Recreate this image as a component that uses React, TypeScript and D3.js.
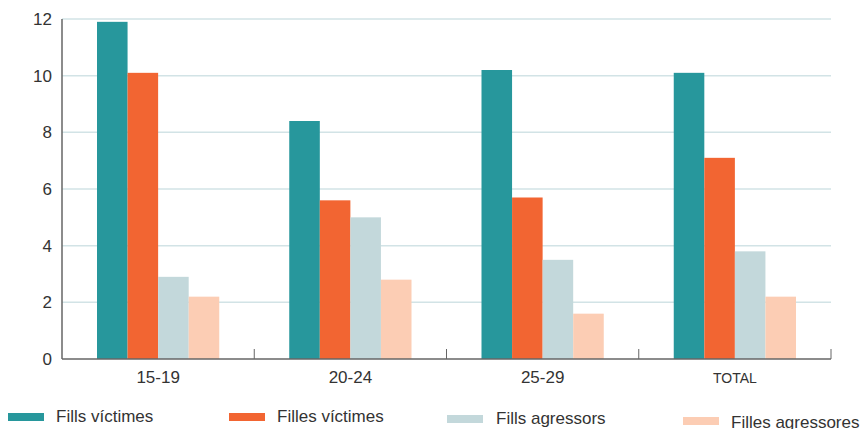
import React from "react";
import * as d3 from "d3";

const categories = ["15-19", "20-24", "25-29", "TOTAL"];
const seriesNames = ["Fills víctimes", "Filles víctimes", "Fills agressors", "Filles agressores"];
const fillsVictimes = [11.9, 8.4, 10.2, 10.1];
const fillesVictimes = [10.1, 5.6, 5.7, 7.1];
const fillsAgressors = [2.9, 5.0, 3.5, 3.8];
const fillesAgressores = [2.2, 2.8, 1.6, 2.2];
const yTicks = [0, 2, 4, 6, 8, 10, 12];
const colors = ["#27979c", "#f26532", "#c3d8db", "#fccdb4"];

const W = 866;
const H = 429;
const left = 62;
const right = 831;
const top = 19;
const bottom = 359;

const legendPos = [
  { rx: 8, ry: 413, tx: 56, ty: 422 },
  { rx: 229, ry: 413, tx: 277, ty: 422 },
  { rx: 447, ry: 415, tx: 496, ty: 424 },
  { rx: 683, ry: 417, tx: 731, ty: 428 },
];

export default function App() {
  const series = [fillsVictimes, fillesVictimes, fillsAgressors, fillesAgressores];
  const x = d3.scaleBand<string>().domain(categories).range([left, right]).paddingInner(0).paddingOuter(0);
  const y = d3.scaleLinear().domain([0, 12]).range([bottom, top]);
  const inner = d3
    .scaleBand<number>()
    .domain(d3.range(series.length))
    .range([35, x.bandwidth() - 35]);
  const font = "'Liberation Sans', Arial, Helvetica, sans-serif";
  return (
    <svg width={W} height={H} style={{ position: "absolute", left: 0, top: 0 }} fontFamily={font}>
      {yTicks.map((t) =>
        t > 0 ? (
          <line key={"g" + t} x1={left} x2={right} y1={y(t)} y2={y(t)} stroke="#d2e3e6" strokeWidth={1.5} />
        ) : null
      )}
      {yTicks.map((t) => (
        <text key={"yl" + t} x={52} y={y(t)} dy="0.36em" textAnchor="end" fontSize={17} fill="#333">
          {t}
        </text>
      ))}
      {categories.map((c, ci) =>
        series.map((s, si) => (
          <rect
            key={c + si}
            x={(x(c) as number) + (inner(si) as number)}
            y={y(s[ci])}
            width={inner.bandwidth()}
            height={y(0) - y(s[ci])}
            fill={colors[si]}
          />
        ))
      )}
      <line x1={left} x2={left} y1={top} y2={bottom} stroke="#666" strokeWidth={1.5} />
      <line x1={left} x2={right} y1={bottom} y2={bottom} stroke="#666" strokeWidth={1.5} />
      {categories.map((c, i) => (
        <line
          key={"t" + c}
          x1={(x(c) as number) + x.bandwidth()}
          x2={(x(c) as number) + x.bandwidth()}
          y1={bottom}
          y2={bottom - 10}
          stroke="#666"
          strokeWidth={1}
        />
      ))}
      {categories.map((c) => (
        <text
          key={"xl" + c}
          x={(x(c) as number) + x.bandwidth() / 2}
          y={383}
          textAnchor="middle"
          fontSize={c === "TOTAL" ? 14 : 17}
          fill="#333"
        >
          {c}
        </text>
      ))}
      {seriesNames.map((n, i) => (
        <g key={"lg" + i}>
          <rect x={legendPos[i].rx} y={legendPos[i].ry} width={36} height={8} fill={colors[i]} />
          <text x={legendPos[i].tx} y={legendPos[i].ty} fontSize={17} fill="#333">
            {n}
          </text>
        </g>
      ))}
    </svg>
  );
}
